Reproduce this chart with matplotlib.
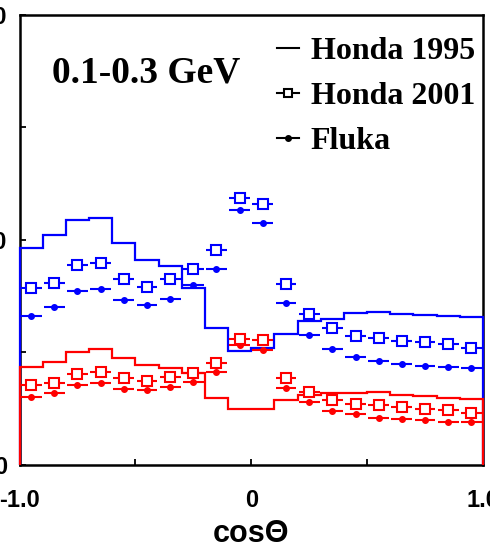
import numpy as np
import matplotlib.pyplot as plt
from matplotlib.lines import Line2D

plt.rcParams["font.family"] = "Liberation Sans"
plt.rcParams["font.weight"] = "bold"

# cos(zenith) binning: 20 bins of width 0.1
bin_edges = np.linspace(-1.0, 1.0, 21)
bin_centers = 0.5 * (bin_edges[:-1] + bin_edges[1:])

# Honda 1995 flux (histogram)
honda95_numu = [96.6, 102.2, 108.9, 109.5, 98.8, 91.1, 88.4, 78.7, 60.9, 50.7,
                52.0, 58.2, 64.0, 64.9, 67.6, 68.0, 67.1, 66.7, 66.2, 65.8]
honda95_nue = [43.6, 45.8, 50.4, 51.6, 47.6, 44.2, 43.3, 40.9, 29.8, 24.8,
               24.8, 28.9, 31.3, 31.8, 32.0, 32.2, 31.3, 30.7, 29.8, 29.3]

# Honda 2001 flux (open squares)
honda01_numu = [78.5, 80.7, 88.7, 89.5, 82.5, 79.1, 82.7, 87.2, 95.4, 118.5,
                116.1, 80.4, 67.2, 60.9, 57.3, 56.2, 55.1, 54.7, 53.6, 52.1]
honda01_nue = [35.7, 36.6, 40.6, 41.5, 38.7, 37.3, 38.9, 41.0, 45.2, 55.9,
               55.6, 38.7, 32.2, 28.7, 27.1, 26.7, 25.8, 24.8, 24.4, 23.2]

# Fluka flux (filled dots)
fluka_numu = [66.2, 70.2, 77.1, 78.1, 73.2, 71.1, 73.6, 80.0, 87.1, 113.2,
              107.7, 72.1, 57.8, 51.3, 48.0, 46.2, 44.9, 44.0, 43.6, 43.1]
fluka_nue = [30.1, 32.1, 35.6, 36.2, 33.6, 33.1, 34.5, 36.9, 41.5, 53.1,
             51.2, 34.4, 27.8, 23.8, 22.7, 21.0, 20.6, 19.9, 19.2, 19.1]

blue = "#0000ff"
red = "#ff0000"

fig = plt.figure(figsize=(4.9, 5.51), dpi=100)
ax = fig.add_axes([0.0398, 0.1561, 0.9459, 0.8172])

for flux, color in [(honda95_numu, blue), (honda95_nue, red)]:
    ax.stairs(flux, bin_edges, baseline=0, color=color, lw=1.6,
              zorder=3, clip_on=False)

for h01, fl, color in [(honda01_numu, fluka_numu, blue), (honda01_nue, fluka_nue, red)]:
    ax.errorbar(bin_centers, fl, xerr=0.045, fmt="o", ms=4, color=color,
                elinewidth=1.5, capsize=0, zorder=4)
    ax.errorbar(bin_centers, h01, xerr=0.045, fmt="s", ms=7, mfc="white",
                mec=color, mew=1.5, ecolor=color, elinewidth=1.5, capsize=0, zorder=5)

ax.set_xlim(-1, 1)
ax.set_ylim(0, 200)
ax.set_xticks([-1, 0, 1])
ax.set_xticklabels(["-1.0", "0", "1.0"])
ax.set_xticks([-0.5, 0.5], minor=True)
ax.set_yticks([0, 100, 200])
ax.set_yticklabels(["0", "100", "200"])
ax.set_yticks([50, 150], minor=True)
ax.tick_params(which="both", direction="in", length=4.5, width=1.3,
               top=False, right=False)
ax.tick_params(axis="x", pad=17, labelsize=17)
ax.tick_params(axis="y", pad=9, labelsize=17)
for s in ax.spines.values():
    s.set_linewidth(1.8)

ax.set_xlabel("cosΘ", fontsize=22, fontweight="bold", labelpad=5)

ax.text(0.070, 0.8505, "0.1-0.3 GeV", transform=ax.transAxes, va="baseline",
        ha="left", fontsize=27, fontweight="bold", family="Liberation Serif")

handles = [
    Line2D([], [], color="black", lw=1.5),
    Line2D([], [], color="black", lw=1.5, marker="s", ms=6, mfc="white", mew=1.5),
    Line2D([], [], color="black", lw=1.5, marker="o", ms=4),
]
ax.legend(handles, ["Honda 1995", "Honda 2001", "Fluka"], loc="upper left",
          bbox_to_anchor=(0.5556, 0.952), frameon=False,
          prop=dict(family="Liberation Serif", weight="bold", size=23),
          handlelength=0.7, handletextpad=0.35, labelspacing=0.5,
          borderaxespad=0, borderpad=0)

fig.savefig("out.png", dpi=100)
